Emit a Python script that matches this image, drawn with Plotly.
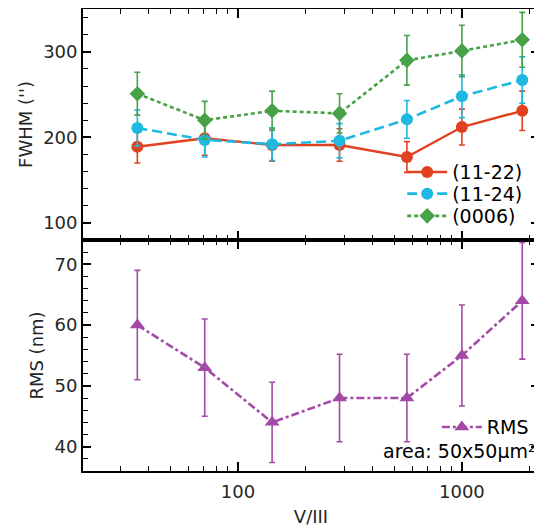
import math
import plotly.graph_objects as go
from plotly.subplots import make_subplots

# ---- data ----
v_iii = [35.5, 71, 142, 284, 568, 1000, 1860]

fwhm_1122 = [189, 199, 191, 191, 177, 212, 231]
err_1122 = [19, 20, 19, 19, 18, 21, 23]

fwhm_1124 = [211, 197, 192, 196, 221, 248, 267]
err_1124 = [21, 20, 19, 20, 22, 25, 27]

fwhm_0006 = [251, 220, 231, 228, 290, 301, 314]
err_0006 = [25, 22, 23, 23, 29, 30, 32]

rms = [60, 53, 44, 48, 48, 55, 64]
err_rms = [9, 8, 6.6, 7.2, 7.2, 8.3, 9.6]

x_major = [100, 1000]
x_major_text = ["100", "1000"]
x_minor = [20, 30, 40, 50, 60, 70, 80, 90, 200, 300, 400, 500, 600, 700, 800, 900, 2000]

RED = "#e2411f"
CYAN = "#1eb8e0"
GREEN = "#47a247"
PURPLE = "#a349a6"
FONT = "DejaVu Sans"
TXT = "#262626"
FS = 18
FSL = 19

fig = make_subplots(rows=2, cols=1, shared_xaxes=True, vertical_spacing=0)

def err(vals, color):
    return dict(type="data", array=vals, visible=True, color=color,
                thickness=1.6, width=3)

fig.add_trace(go.Scatter(x=v_iii, y=fwhm_1122, name="(11-22)", mode="lines+markers",
                         line=dict(color=RED, width=2.4, dash="solid"),
                         marker=dict(symbol="circle", size=12, color=RED),
                         error_y=err(err_1122, RED), legend="legend"), row=1, col=1)
fig.add_trace(go.Scatter(x=v_iii, y=fwhm_1124, name="(11-24)", mode="lines+markers",
                         line=dict(color=CYAN, width=2.6, dash="10px,5px"),
                         marker=dict(symbol="circle", size=12, color=CYAN),
                         error_y=err(err_1124, CYAN), legend="legend2"), row=1, col=1)
fig.add_trace(go.Scatter(x=v_iii, y=fwhm_0006, name="(0006)", mode="lines+markers",
                         line=dict(color=GREEN, width=2.6, dash="4px,3px"),
                         marker=dict(symbol="diamond", size=12, color=GREEN),
                         error_y=err(err_0006, GREEN), legend="legend3"), row=1, col=1)
fig.add_trace(go.Scatter(x=v_iii, y=rms, name="RMS", mode="lines+markers",
                         line=dict(color=PURPLE, width=2.6, dash="8px,3px,3px,3px"),
                         marker=dict(symbol="triangle-up", size=13, color=PURPLE),
                         error_y=err(err_rms, PURPLE), legend="legend4"), row=2, col=1)

xaxis_common = dict(
    type="log", range=[math.log10(20.3), math.log10(2210)],
    tickmode="array", tickvals=x_major, ticktext=x_major_text,
    ticks="inside", ticklen=9, tickwidth=1.6, tickcolor="#000000",
    showline=True, linecolor="black", linewidth=1.8, mirror="allticks",
    showgrid=False, zeroline=False, automargin=False,
    ticklabelstandoff=3,
    minor=dict(tickmode="array", tickvals=x_minor, ticks="inside", ticklen=5,
               tickwidth=1.4, tickcolor="#000000", showgrid=False),
    tickfont=dict(family=FONT, size=FS, color=TXT),
)
fig.update_xaxes(**xaxis_common)
fig.update_xaxes(title=dict(text="V/III", font=dict(family=FONT, size=FS, color=TXT), standoff=10),
                 row=2, col=1)

yaxis_common = dict(
    ticks="inside", ticklen=8, tickwidth=1.6, tickcolor="#000000",
    showline=True, linecolor="black", linewidth=1.8, mirror="allticks",
    showgrid=False, zeroline=False, automargin=False,
    tickfont=dict(family=FONT, size=FS, color=TXT),
)
fig.update_yaxes(**yaxis_common)
fig.update_yaxes(range=[80, 350], tickmode="array", tickvals=[100, 200, 300],
                 minor=dict(tickmode="linear", tick0=0, dtick=20, ticks="inside", ticklen=5,
                            tickwidth=1.4, tickcolor="#000000", showgrid=False),
                 title=dict(text="FWHM ('')", font=dict(family=FONT, size=FS, color=TXT), standoff=6),
                 row=1, col=1)
fig.update_yaxes(range=[36, 74], tickmode="array", tickvals=[40, 50, 60, 70],
                 minor=dict(tickmode="linear", tick0=0, dtick=2, ticks="inside", ticklen=5,
                            tickwidth=1.4, tickcolor="#000000", showgrid=False),
                 title=dict(text="RMS (nm)", font=dict(family=FONT, size=FS, color=TXT), standoff=6),
                 row=2, col=1)

fig.add_annotation(text="area: 50x50µm²", xref="paper", yref="paper",
                   x=0.825, y=0.043, xanchor="center", yanchor="middle", showarrow=False,
                   font=dict(family=FONT, size=FSL, color="black"))

leg = dict(xanchor="left", yanchor="middle", bgcolor="rgba(0,0,0,0)",
           font=dict(family=FONT, size=FSL, color="black"), itemwidth=40)

fig.update_layout(
    width=542, height=527,
    margin=dict(l=75, r=11, t=1, b=64, autoexpand=False),
    paper_bgcolor="white", plot_bgcolor="white",
    font=dict(family=FONT, size=FS, color=TXT),
    legend=dict(x=0.700, y=0.647, **leg),
    legend2=dict(x=0.700, y=0.600, **leg),
    legend3=dict(x=0.700, y=0.552, **leg),
    legend4=dict(x=0.776, y=0.095, **leg),
    showlegend=True,
)

fig.write_html("out.html", config={"responsive": False})
